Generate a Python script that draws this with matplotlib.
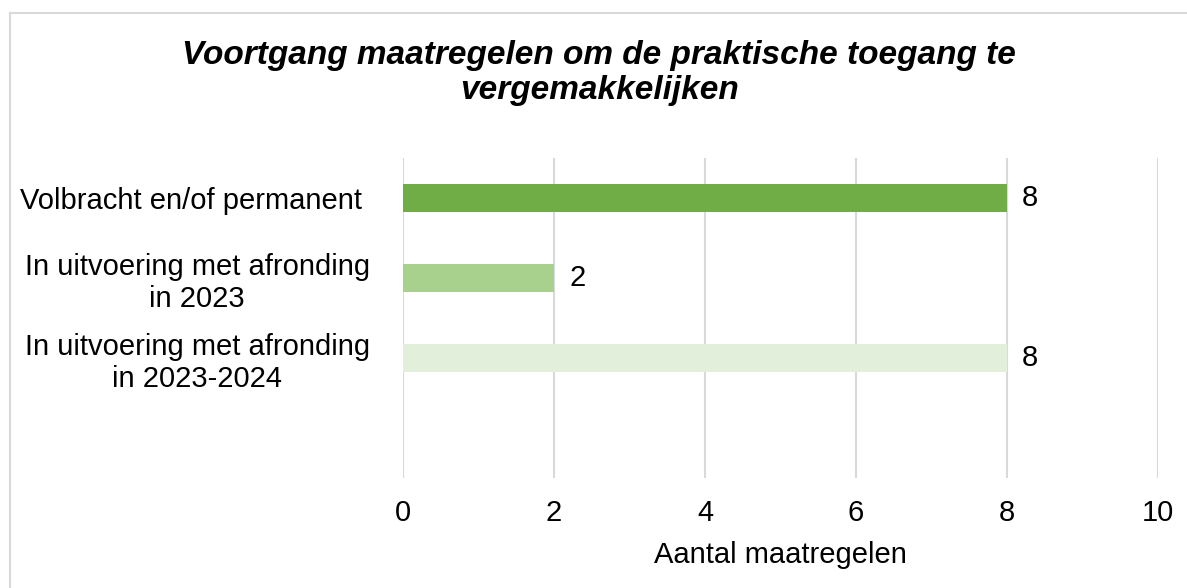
"""Voortgang maatregelen praktische toegang: horizontale staafgrafiek."""

import matplotlib.pyplot as plt
from matplotlib.lines import Line2D


categories = ["Volbracht en/of permanent ",
              "In uitvoering met afronding\nin 2023",
              "In uitvoering met afronding\nin 2023-2024"]
values = [8, 2, 8]
colors = ["#70AD47", "#A9D18E", "#E2EFDA"]
xticks = [0, 2, 4, 6, 8, 10]

TITLE = "Voortgang maatregelen om de praktische toegang te\nvergemakkelijken"
XLABEL = "Aantal maatregelen"


def plot_chart():
    plt.rcParams["font.family"] = ["Liberation Sans", "DejaVu Sans"]
    W, H = 1187, 588
    fig = plt.figure(figsize=(W / 100, H / 100), dpi=100)

    # kader van het grafiekgebied: alleen boven- en linkerrand vallen in beeld
    border = dict(color="#d9d9d9", linewidth=1.5, transform=fig.transFigure)
    fig.lines.append(Line2D([10 / W, 1.0], [1 - 12.5 / H] * 2, **border))
    fig.lines.append(Line2D([10 / W] * 2, [0.0, 1 - 12.5 / H], **border))

    ax = fig.add_axes([403 / W, 1 - 478 / H, 755 / W, 320 / H])
    pos = list(range(len(categories)))
    ax.barh(pos, values, height=0.36, color=colors, zorder=2)
    for p, v in zip(pos, values):
        ax.text(v + 0.2, p, str(v), va="center", ha="left", fontsize=21)

    ax.set_xlim(0, 10)
    ax.set_ylim(3.5, -0.5)  # lege vierde rij onderaan, zoals in het origineel
    ax.set_xticks(xticks)
    ax.set_xticklabels([str(t) for t in xticks], fontsize=21)
    ax.set_yticks(pos)
    ax.set_yticklabels(categories, fontsize=21, multialignment="center")
    ax.tick_params(axis="both", length=0)
    ax.tick_params(axis="x", pad=15)
    ax.tick_params(axis="y", pad=24)
    ax.grid(True, axis="x", color="#d9d9d9", linewidth=1.5, zorder=0)
    for s in ax.spines.values():
        s.set_visible(False)
    ax.set_xlabel(XLABEL, fontsize=21, labelpad=10)

    fig.text(0.505, 1 - 73 / H, TITLE, ha="center", va="center", fontsize=24,
             fontweight="bold", fontstyle="italic", linespacing=1.15)

    fig.savefig("out.png", dpi=100)
    plt.close(fig)


if __name__ == "__main__":
    plot_chart()
